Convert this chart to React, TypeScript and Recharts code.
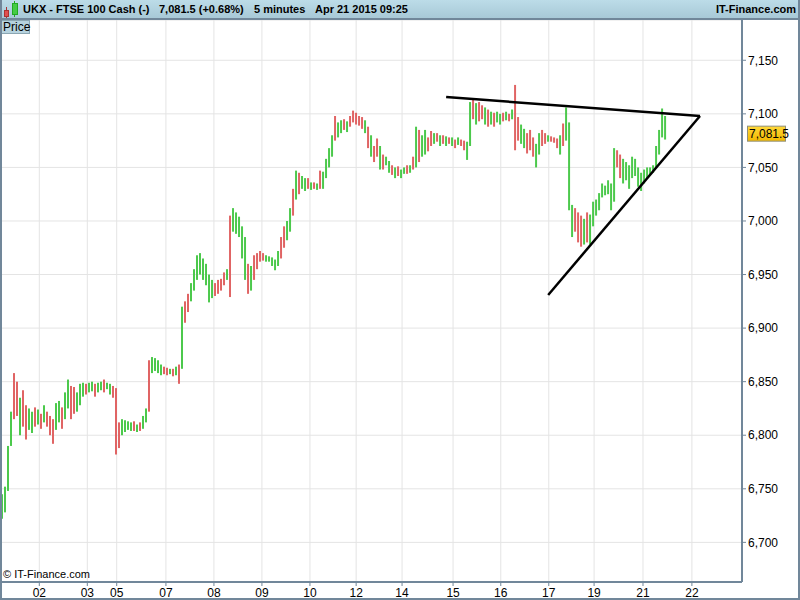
import React from "react";
import { ComposedChart, Bar, Cell, XAxis, YAxis, CartesianGrid, ReferenceLine } from "recharts";

// 5-minute bars, FTSE 100 cash (UKX), ~Apr 02 -> Apr 21 2015 (one bar per ~3 candles)
const LOWS = [
  6722, 6728, 6748, 6790, 6815, 6818, 6800, 6808, 6796, 6805, 6802, 6808, 6810, 6806, 6812, 6808, 6800, 6792, 6805, 6812,
  6806, 6815, 6825, 6815, 6820, 6822, 6828, 6836, 6838, 6840, 6841, 6836, 6840, 6842, 6840, 6843, 6838, 6835, 6782, 6788,
  6800, 6803, 6805, 6804, 6804, 6803, 6804, 6806, 6812, 6822, 6858, 6860, 6858, 6856, 6857, 6856, 6857, 6855, 6856, 6848,
  6862, 6905, 6915, 6925, 6935, 6945, 6950, 6945, 6940, 6924, 6928, 6930, 6932, 6935, 6940, 6945, 6929, 6990, 6988, 6985,
  6965, 6945, 6932, 6935, 6945, 6955, 6962, 6963, 6962, 6962, 6958, 6954, 6958, 6965, 6975, 6982, 6990, 7005, 7020, 7025,
  7030, 7028, 7030, 7029, 7030, 7029, 7030, 7030, 7040, 7050, 7060, 7075, 7078, 7082, 7085, 7083, 7088, 7092, 7090, 7089,
  7086, 7082, 7068, 7060, 7055, 7060, 7048, 7048, 7052, 7045, 7043, 7040, 7042, 7040, 7044, 7044, 7045, 7048, 7050, 7055,
  7060, 7062, 7065, 7070, 7072, 7074, 7070, 7072, 7070, 7072, 7070, 7068, 7071, 7070, 7066, 7057, 7070, 7095, 7090, 7093,
  7095, 7090, 7088, 7090, 7088, 7092, 7090, 7093, 7094, 7093, 7095, 7066, 7075, 7072, 7068, 7063, 7066, 7060, 7050, 7062,
  7070, 7072, 7074, 7074, 7073, 7068, 7062, 7070, 7075, 7010, 6985, 6990, 6980, 6976, 6978, 6980, 6978, 6995, 7005, 7010,
  7022, 7024, 7025, 7010, 7018, 7050, 7040, 7035, 7038, 7030, 7040, 7042, 7032, 7028, 7035, 7040, 7043, 7045, 7050, 7062,
  7078, 7076,
];
const HIGHS = [
  6745, 6752, 6790, 6822, 6858, 6850, 6835, 6842, 6828, 6825, 6822, 6826, 6824, 6820, 6828, 6822, 6818, 6815, 6830, 6832,
  6826, 6840, 6852, 6846, 6845, 6840, 6848, 6849, 6848, 6849, 6850, 6848, 6849, 6850, 6852, 6849, 6848, 6846, 6844, 6812,
  6815, 6814, 6813, 6812, 6813, 6810, 6812, 6818, 6825, 6870, 6873, 6872, 6870, 6866, 6864, 6863, 6862, 6862, 6864, 6866,
  6920, 6925, 6932, 6942, 6955, 6968, 6970, 6965, 6960, 6950, 6945, 6942, 6945, 6946, 6952, 6955, 7005, 7012, 7008, 7004,
  6995, 6985, 6960, 6958, 6968, 6970, 6972, 6970, 6968, 6967, 6966, 6964, 6972, 6985, 6995, 7000, 7012, 7030, 7047, 7045,
  7042, 7040, 7040, 7036, 7036, 7035, 7047, 7046, 7058, 7068, 7080, 7098, 7092, 7094, 7095, 7093, 7098, 7103, 7101, 7098,
  7097, 7094, 7088, 7080, 7070, 7077, 7070, 7062, 7060, 7056, 7052, 7050, 7051, 7048, 7050, 7052, 7052, 7060, 7088, 7085,
  7080, 7085, 7078, 7084, 7082, 7082, 7080, 7080, 7079, 7078, 7078, 7076, 7078, 7076, 7075, 7074, 7111, 7113, 7110, 7111,
  7108, 7106, 7104, 7102, 7101, 7102, 7100, 7101, 7102, 7100, 7104, 7127, 7097, 7090, 7086, 7082, 7085, 7078, 7072, 7082,
  7085, 7082, 7080, 7079, 7078, 7077, 7080, 7091, 7106, 7092, 7015, 7012, 7008, 7005, 7002, 7008, 7006, 7018, 7020, 7026,
  7035, 7033, 7038, 7035, 7068, 7066, 7062, 7058, 7055, 7052, 7060, 7058, 7050, 7045, 7048, 7050, 7050, 7052, 7070, 7085,
  7105, 7098,
];
const DIRS =
  "gggg rrgr rggr grgr rrgg rggr rggg rggr ggrg grrr ggggr grgg rggg grrg rgrg rrggg gggg grrr rgrg ggg grgr rrrg ggggr rggr grgg rgrg rggg grgg rgrr rrrg rgrr grgg rgrg grgr grgg rrgr grgr grgr rggr grrg rgrg grgr grrg grrr ggrr grrr grgg grrr grgg gggg gggr r";

const DAY_LABELS = ["02", "03", "05", "07", "08", "09", "10", "12", "14", "15", "16", "17", "19", "21", "22"];
const DAY_TICKS = [12.6, 28.6, 38.4, 54.8, 70.8, 86.8, 102.8, 118.2, 133.5, 150.5, 166.4, 182.4, 197.5, 213.8, 230.1];
const Y_TICKS = [6700, 6750, 6800, 6850, 6900, 6950, 7000, 7050, 7100, 7150];

const LAST = 7081.5;
const UPPER_TREND = [{ x: 148.2, y: 7115.7 }, { x: 232.8, y: 7098 }];
const LOWER_TREND = [{ x: 182.2, y: 6930.9 }, { x: 232.8, y: 7098 }];

const FONT = "'Liberation Sans', Arial, sans-serif";
const UP = "#4cc94c";
const DOWN = "#e06464";
const FRAME = "#71879a";

const PriceTag = (props: any) => {
  const { viewBox } = props;
  const x = viewBox.x + viewBox.width + 5;
  const y = viewBox.y;
  return (
    <g>
      <rect x={x + 0.5} y={y - 7.5} width={38} height={15} fill="url(#gold)" stroke="#8f8f7a" />
      <text x={x + 2} y={y + 4.5} fontSize={12} fill="#000" fontFamily={FONT}>
        {LAST.toLocaleString("en-US", { minimumFractionDigits: 1 })}
      </text>
    </g>
  );
};

export default function App() {
  const dirs = DIRS.replace(/\s/g, "");
  const data = LOWS.map((lo, i) => ({ i, range: [lo, HIGHS[i]], up: dirs[i] !== "r" }));

  return (
    <div
      style={{
        position: "fixed",
        left: 0,
        top: 0,
        width: 800,
        height: 600,
        background: "#fff",
        fontFamily: FONT,
        overflow: "hidden",
      }}
    >
      <div style={{ position: "absolute", left: 0, top: 0 }}>
        <ComposedChart width={800} height={600} data={data} margin={{ top: 20, right: 0, left: 0, bottom: 0 }}>
          <defs>
            <linearGradient id="gold" x1="0" y1="0" x2="0" y2="1">
              <stop offset="0%" stopColor="#ffd83a" />
              <stop offset="100%" stopColor="#f2b800" />
            </linearGradient>
          </defs>
          <CartesianGrid stroke="#e4e4e4" strokeWidth={1} />
          <XAxis
            type="number"
            dataKey="i"
            domain={[-0.5, 246.8]}
            allowDataOverflow
            ticks={DAY_TICKS}
            interval={0}
            tickFormatter={(v) => DAY_LABELS[DAY_TICKS.indexOf(v)]}
            height={18}
            tickSize={4}
            tickMargin={2}
            axisLine={{ stroke: FRAME, strokeWidth: 2 }}
            tickLine={{ stroke: FRAME }}
            tick={{ fill: "#000", fontSize: 12, fontFamily: FONT }}
          />
          <YAxis
            orientation="right"
            width={58}
            domain={[6663, 7187.6]}
            allowDataOverflow
            ticks={Y_TICKS}
            interval={0}
            tickFormatter={(v) => v.toLocaleString("en-US")}
            tickSize={4}
            tickMargin={2}
            axisLine={{ stroke: FRAME, strokeWidth: 2 }}
            tickLine={{ stroke: FRAME }}
            tick={{ fill: "#000", fontSize: 12, fontFamily: FONT, textAnchor: "start" }}
          />
          <Bar dataKey="range" barSize={2} isAnimationActive={false}>
            {data.map((d) => (
              <Cell key={d.i} fill={d.up ? UP : DOWN} />
            ))}
          </Bar>
          <ReferenceLine segment={UPPER_TREND} stroke="#000" strokeWidth={2.5} ifOverflow="visible" />
          <ReferenceLine segment={LOWER_TREND} stroke="#000" strokeWidth={2.5} ifOverflow="visible" />
          <ReferenceLine y={LAST} stroke="none" ifOverflow="visible" label={<PriceTag />} />
        </ComposedChart>
      </div>

      {/* header */}
      <div
        style={{
          position: "absolute",
          left: 0,
          top: 0,
          width: 800,
          height: 20,
          boxSizing: "border-box",
          background: "linear-gradient(#bcdce8, #a8c9d7)",
          borderBottom: `2px solid ${FRAME}`,
          fontSize: 11,
          fontWeight: "bold",
          color: "#000",
          whiteSpace: "pre",
          lineHeight: "18px",
        }}
      >
        <svg width={18} height={18} style={{ position: "absolute", left: 2, top: 1 }}>
          <line x1={4.5} y1={6} x2={4.5} y2={17} stroke="#a33" />
          <rect x={2.5} y={9.5} width={4} height={6} fill="#e05050" stroke="#a33" />
          <line x1={12.5} y1={0} x2={12.5} y2={16} stroke="#2a2" />
          <rect x={10.5} y={2.5} width={5} height={11} fill="#44cc44" stroke="#2a2" />
        </svg>
        <span style={{ position: "absolute", left: 23 }}>UKX - FTSE 100 Cash (-)</span>
        <span style={{ position: "absolute", left: 159 }}>7,081.5 (+0.68%)</span>
        <span style={{ position: "absolute", left: 254 }}>5 minutes</span>
        <span style={{ position: "absolute", left: 315 }}>Apr 21 2015 09:25</span>
        <span style={{ position: "absolute", right: 4 }}>IT-Finance.com</span>
      </div>

      {/* "Price" pane label */}
      <div
        style={{
          position: "absolute",
          left: 0,
          top: 20,
          width: 30,
          height: 14,
          boxSizing: "border-box",
          background: "#b6d2de",
          border: "1px solid #8ba6b2",
          fontSize: 12,
          lineHeight: "12px",
          paddingLeft: 2,
          color: "#000",
        }}
      >
        Price
      </div>

      <div style={{ position: "absolute", left: 3, top: 568, fontSize: 11, color: "#000" }}>© IT-Finance.com</div>

      {/* outer frame */}
      <div
        style={{
          position: "absolute",
          left: 0,
          top: 0,
          width: 800,
          height: 600,
          boxSizing: "border-box",
          borderLeft: `2px solid ${FRAME}`,
          borderRight: `2px solid ${FRAME}`,
          borderBottom: `2px solid ${FRAME}`,
          pointerEvents: "none",
        }}
      />
    </div>
  );
}
